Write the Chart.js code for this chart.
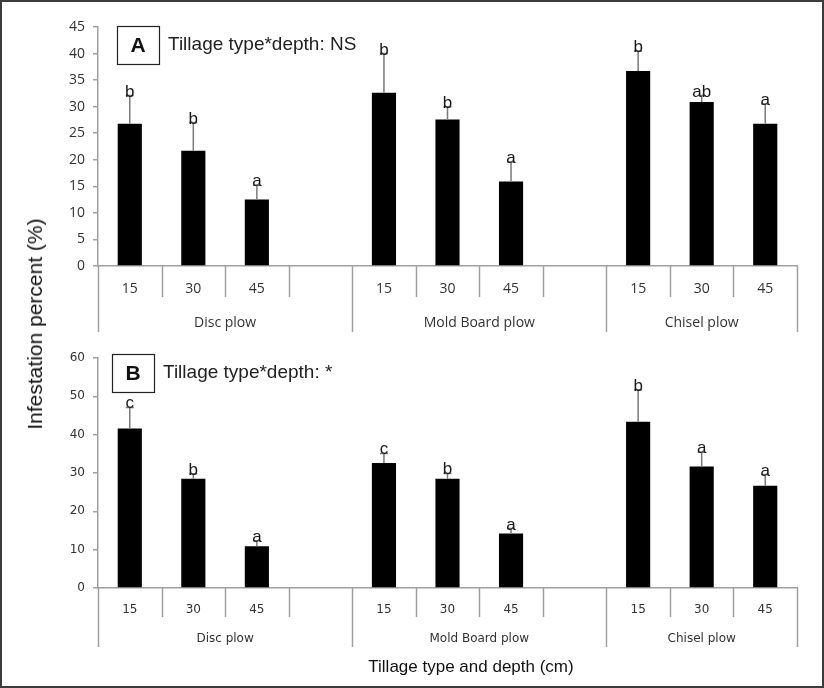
<!DOCTYPE html>
<html>
<head>
<meta charset="utf-8">
<script src="https://cdn.jsdelivr.net/npm/chart.js@4.4.1/dist/chart.umd.min.js"></script>
<style>
  body { margin: 0; background: #fff; }
  canvas { position: absolute; left: 0; }
  #frame { position: absolute; left: 0; top: 0; width: 824px; height: 688px;
           box-sizing: border-box; border: 2px solid #3c3c3c; pointer-events: none; }
  #ytitle { position: absolute; left: 35px; top: 324px; transform: translate(-50%, -50%) rotate(-90deg);
            font: 21px "Liberation Sans", Arial, sans-serif; color: #111; white-space: nowrap; }
  #xtitle { position: absolute; left: 471px; top: 667px; transform: translate(-50%, -50%);
            font: 17px "Liberation Sans", Arial, sans-serif; color: #111; white-space: nowrap; }
</style>
</head>
<body>
<canvas id="chartA" width="824" height="340" style="top:0"></canvas>
<canvas id="chartB" width="824" height="348" style="top:340px"></canvas>
<div id="ytitle">Infestation percent (%)</div>
<div id="xtitle">Tillage type and depth (cm)</div>
<div id="frame"></div>
<script>
// depth slots, empty slot between tillage types
const depthLabels = ["15", "30", "45", "", "15", "30", "45", "", "15", "30", "45"];
const tillageTypes = ["Disc plow", "Mold Board plow", "Chisel plow"];
const groupStart = [0, 4, 8];
const groupEnd = [4, 8, 11];

// panel A
const meansA = [26.8, 21.7, 12.5, null, 32.6, 27.6, 15.9, null, 36.7, 30.9, 26.8];
const errA = [5.3, 5.3, 2.7, null, 7.4, 2.4, 3.7, null, 3.8, 1.2, 3.7];
const lettersA = ["b", "b", "a", "", "b", "b", "a", "", "b", "ab", "a"];

// panel B
const meansB = [41.6, 28.5, 10.9, null, 32.6, 28.5, 14.2, null, 43.4, 31.7, 26.7];
const errB = [5.5, 1.3, 1.4, null, 2.5, 1.4, 1.3, null, 8.3, 3.7, 2.9];
const lettersB = ["c", "b", "a", "", "c", "b", "a", "", "b", "a", "a"];

const decor = {
  id: "decor",
  afterDatasetsDraw(chart, args, o) {
    const ctx = chart.ctx, x = chart.scales.x, y = chart.scales.y;
    ctx.save();
    chart.data.datasets[0].data.forEach((v, i) => {
      if (v == null) return;
      const px = x.getPixelForValue(i);
      const top = y.getPixelForValue(v + o.err[i]);
      ctx.strokeStyle = "#7a7a7a";
      ctx.lineWidth = 1.5;
      ctx.beginPath();
      ctx.moveTo(px, y.getPixelForValue(v));
      ctx.lineTo(px, top);
      ctx.moveTo(px - 4, top);
      ctx.lineTo(px + 4, top);
      ctx.stroke();
      ctx.fillStyle = "#1a1a1a";
      ctx.font = "17px 'Liberation Sans', Arial, sans-serif";
      ctx.textAlign = "center";
      ctx.textBaseline = "alphabetic";
      ctx.fillText(o.letters[i], px, top + 1);
    });
    ctx.restore();
  },
  afterDraw(chart, args, o) {
    const ctx = chart.ctx;
    const area = chart.chartArea;
    const slot = (area.right - area.left) / depthLabels.length;
    ctx.save();
    ctx.strokeStyle = "#a0a0a0";
    ctx.lineWidth = 1.5;
    for (let k = 0; k <= depthLabels.length; k++) {
      const px = Math.round(area.left + k * slot) + 0.5;
      const isGroup = groupStart.includes(k) || k === depthLabels.length;
      ctx.beginPath();
      ctx.moveTo(px, area.bottom);
      ctx.lineTo(px, area.bottom + (isGroup ? o.longLen : o.shortLen));
      ctx.stroke();
    }
    ctx.fillStyle = "#333";
    ctx.font = o.groupFont;
    ctx.textAlign = "center";
    ctx.textBaseline = "middle";
    tillageTypes.forEach((t, g) => {
      const cx = area.left + (groupStart[g] + groupEnd[g]) / 2 * slot;
      ctx.fillText(t, cx, area.bottom + o.groupY);
    });
    // panel tag and note
    const b = o.box;
    ctx.strokeStyle = "#222";
    ctx.lineWidth = 1.2;
    ctx.strokeRect(b[0] + 0.5, b[1] + 0.5, b[2], b[3]);
    ctx.fillStyle = "#111";
    ctx.font = "bold 21px 'Liberation Sans', Arial, sans-serif";
    ctx.fillText(o.tag, b[0] + b[2] / 2, b[1] + b[3] / 2 + 1);
    ctx.font = "19px 'Liberation Sans', Arial, sans-serif";
    ctx.textAlign = "left";
    ctx.fillStyle = "#222";
    ctx.fillText(o.note, b[0] + b[2] + 9, b[1] + b[3] / 2);
    ctx.restore();
  }
};

function makePanel(id, means, err, letters, yMax, yStep, g) {
  return new Chart(document.getElementById(id), {
    type: "bar",
    data: {
      labels: depthLabels,
      datasets: [{
        data: means,
        backgroundColor: "#000",
        borderColor: "#000",
        barPercentage: 0.38,
        categoryPercentage: 1
      }]
    },
    options: {
      responsive: false,
      animation: false,
      layout: { padding: { top: g.top, right: 27, bottom: 0, left: 0 } },
      plugins: {
        legend: { display: false },
        tooltip: { enabled: false },
        decor: { err: err, letters: letters, tag: g.tag, note: g.note, box: g.box,
                 shortLen: g.shortLen, longLen: g.longLen, groupY: g.groupY, groupFont: g.groupFont }
      },
      scales: {
        x: {
          afterFit(s) { s.height = g.xHeight; },
          grid: { display: false, drawTicks: false },
          border: { display: true, color: "#a0a0a0", width: 1.5 },
          ticks: { autoSkip: false, maxRotation: 0, padding: g.tickPad, color: "#333",
                   font: { family: g.tickFamily, size: g.tickSize } }
        },
        y: {
          min: 0, max: yMax,
          afterFit(s) { s.width = 98; },
          grid: { drawOnChartArea: false, drawTicks: true, tickLength: 5, color: "#a0a0a0", lineWidth: 1.5 },
          border: { display: true, color: "#a0a0a0", width: 1.5 },
          ticks: { stepSize: yStep, padding: 8, color: "#333",
                   font: { family: g.tickFamily, size: g.ySize } }
        }
      }
    },
    plugins: [decor]
  });
}

makePanel("chartA", meansA, errA, lettersA, 45, 5, {
  top: 27, xHeight: 74, tickPad: 15, tickFamily: "Open Sans", tickSize: 14, ySize: 14,
  shortLen: 31, longLen: 66, groupY: 57, groupFont: "14px 'Open Sans', sans-serif",
  tag: "A", note: "Tillage type*depth: NS", box: [117, 26, 42, 38]
});
makePanel("chartB", meansB, errB, lettersB, 60, 10, {
  top: 18, xHeight: 100, tickPad: 15, tickFamily: "DejaVu Sans", tickSize: 12, ySize: 12,
  shortLen: 29, longLen: 59, groupY: 51, groupFont: "12px 'DejaVu Sans', sans-serif",
  tag: "B", note: "Tillage type*depth: *", box: [112, 14, 42, 38]
});
</script>
</body>
</html>
